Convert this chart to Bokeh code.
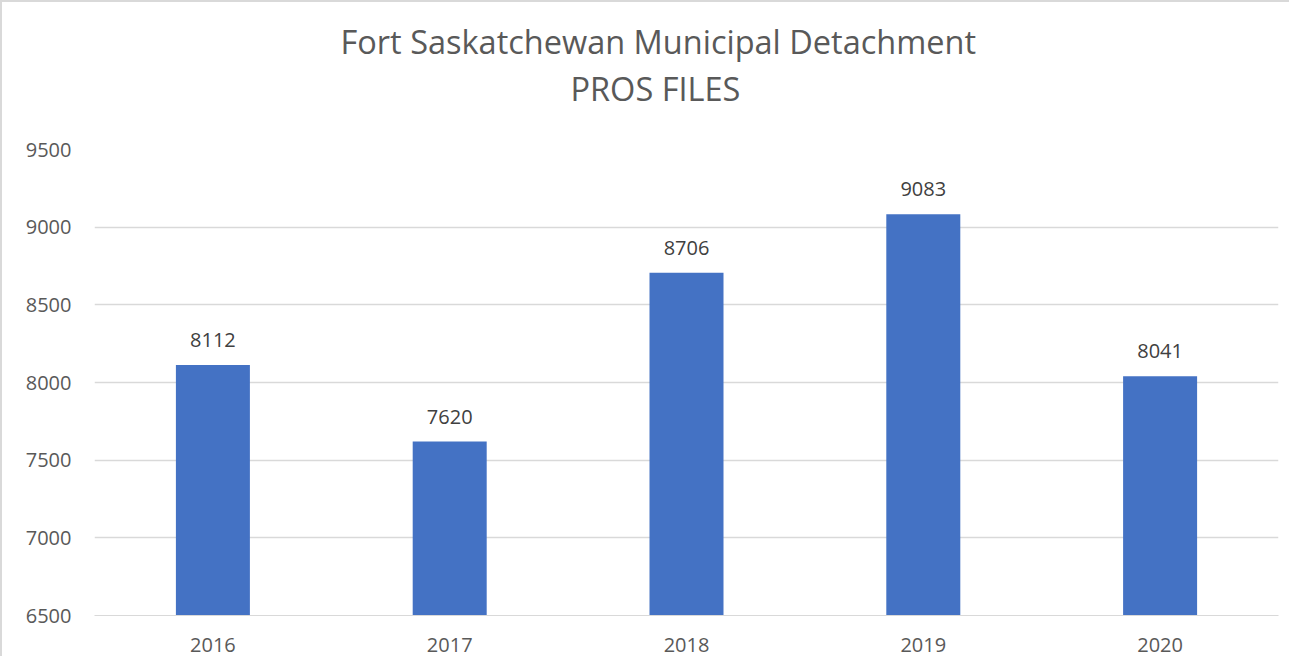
from bokeh.plotting import figure
from bokeh.models import Range1d, FactorRange, ColumnDataSource, SingleIntervalTicker, Title
from bokeh.core.properties import value
from bokeh.embed import file_html
from bokeh.resources import INLINE

years = ["2016", "2017", "2018", "2019", "2020"]
files = [8112, 7620, 8706, 9083, 8041]
title_line1 = "Fort Saskatchewan Municipal Detachment"
title_line2 = "PROS FILES"

FONT = "Open Sans"
GRAY = "#595959"

src = ColumnDataSource(dict(x=years, top=files, lbl=[str(v) for v in files]))

p = figure(width=1289, height=656, x_range=FactorRange(*years), y_range=Range1d(6500, 9500),
           output_backend="svg", toolbar_location=None,
           min_border_left=92, min_border_right=13, min_border_top=147, min_border_bottom=43)
p.title = None
p.outline_line_color = None
p.background_fill_color = "white"
p.border_fill_color = "white"
p.styles = {"border-top": "2px solid #D9D9D9", "border-left": "2px solid #D9D9D9"}

p.vbar(x="x", top="top", bottom=6500, width=0.3125, source=src, color="#4472C4", line_color=None)
p.text(x="x", y="top", text="lbl", source=src, text_align="center", text_baseline="alphabetic",
       y_offset=-25, text_font=value(FONT), text_font_size="20px", text_color="#404040")

p.yaxis.ticker = SingleIntervalTicker(interval=500)
p.ygrid.ticker = SingleIntervalTicker(interval=500)
p.ygrid.grid_line_color = "#D9D9D9"
p.ygrid.grid_line_width = 1.3
p.xgrid.grid_line_color = None

for ax in (p.xaxis, p.yaxis):
    ax.major_tick_line_color = None
    ax.minor_tick_line_color = None
    ax.major_tick_out = 0
    ax.major_tick_in = 0
    ax.major_label_text_font = FONT
    ax.major_label_text_font_size = "20px"
    ax.major_label_text_color = GRAY
p.yaxis.axis_line_color = None
p.xaxis.axis_line_color = "#D9D9D9"
p.yaxis.major_label_standoff = 19
p.xaxis.major_label_standoff = 22

t2 = Title(text=title_line2, align="left", offset=476, standoff=0, padding=(0, 0, 0, 39),
           text_font=FONT, text_font_size="32.5px", text_color=GRAY, text_font_style="normal")
t1 = Title(text=title_line1, align="left", offset=246, standoff=0, text_font=FONT,
           text_font_size="32.5px", text_color=GRAY, text_font_style="normal")
p.add_layout(t2, "above")
p.add_layout(t1, "above")

open("out.html", "w").write(file_html(p, INLINE))
